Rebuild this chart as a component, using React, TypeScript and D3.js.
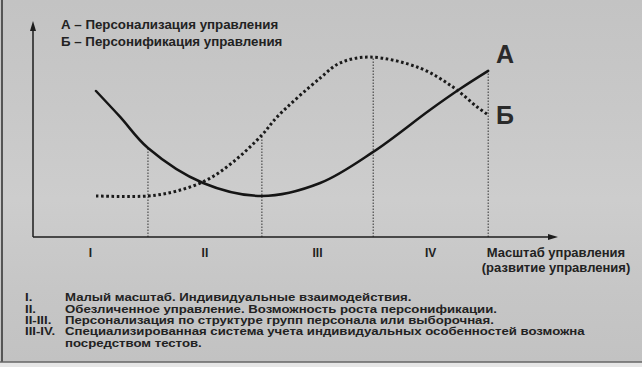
import React from "react";
import * as d3 from "d3";

// ---- data ----
const seriesA_x = [12.0, 16.6, 21.9, 32.4, 43.6, 54.7, 64.8, 75.6, 81.3, 86.7];
const seriesA_y = [67.6, 55.6, 41.2, 25.0, 19.0, 25.0, 39.4, 58.8, 68.5, 76.9];
const seriesB_x = [12.0, 21.9, 27.4, 33.1, 38.1, 43.6, 46.5, 54.7, 58.5, 64.2, 73.7, 80.0, 84.6, 86.7];
const seriesB_y = [19.0, 19.0, 21.3, 26.4, 34.7, 47.2, 55.6, 73.6, 80.6, 83.3, 78.2, 69.4, 60.2, 56.5];
const boundaries = [21.9, 43.6, 64.8, 86.7];
const boundaryTops = [41.2, 47.2, 83.3, 76.9];
const stageLabels = ["I", "II", "III", "IV"];
const legendLines = ["А – Персонализация управления", "Б – Персонификация управления"];
const axisLabelLines = ["Масштаб управления", "(развитие управления)"];
const noteKeys = ["I.", "II.", "II-III.", "III-IV.", ""];
const noteTexts = [
  "Малый масштаб. Индивидуальные взаимодействия.",
  "Обезличенное управление. Возможность роста персонификации.",
  "Персонализация по структуре групп персонала или выборочная.",
  "Специализированная система учета индивидуальных особенностей возможна",
  "посредством тестов.",
];

const W = 642;
const H = 367;
const FONT = "'Liberation Sans', Arial, sans-serif";

export default function App() {
  const x = d3.scaleLinear().domain([0, 100]).range([33, 558]);
  const y = d3.scaleLinear().domain([0, 100]).range([237, 21]);

  const line = d3
    .line<[number, number]>()
    .x((d) => x(d[0]))
    .y((d) => y(d[1]))
    .curve(d3.curveCatmullRom.alpha(0.5));

  const ptsA = seriesA_x.map((v, i) => [v, seriesA_y[i]] as [number, number]);
  const ptsB = seriesB_x.map((v, i) => [v, seriesB_y[i]] as [number, number]);

  const edges = [0, ...boundaries];
  const mids = stageLabels.map((_, i) => (edges[i] + edges[i + 1]) / 2);

  const ink = "#1c1c1c";
  const sx = 1.2;

  return (
    <svg
      width={W}
      height={H}
      style={{ position: "absolute", left: 0, top: 0 }}
      xmlns="http://www.w3.org/2000/svg"
    >
      <defs>
        <linearGradient id="bg" x1="0" y1="0" x2="0" y2="1">
          <stop offset="0" stopColor="#c3c3c3" />
          <stop offset="0.3" stopColor="#c8c8c8" />
          <stop offset="0.55" stopColor="#cdcdcd" />
          <stop offset="0.8" stopColor="#c6c6c6" />
          <stop offset="1" stopColor="#c2c2c2" />
        </linearGradient>
      </defs>
      <rect x={0} y={0} width={W} height={H} fill="#e6e6e6" />
      <rect x={0} y={0} width={W} height={362} fill="url(#bg)" />
      <line x1={2} y1={0} x2={2} y2={362} stroke="#555" strokeWidth={2} />
      <line x1={0} y1={362} x2={W} y2={362} stroke="#666" strokeWidth={1.5} />

      {/* boundary dotted lines */}
      {boundaries.map((b, i) => (
        <line
          key={i}
          x1={x(b)}
          x2={x(b)}
          y1={y(0)}
          y2={y(boundaryTops[i])}
          stroke="#333"
          strokeWidth={1}
          strokeDasharray="1.5 1.5"
        />
      ))}

      {/* axes */}
      <line x1={x(0)} y1={y(0)} x2={x(100) - 6} y2={y(0)} stroke={ink} strokeWidth={1.5} />
      <path
        d={`M${x(100)},${y(0)} L${x(100) - 10},${y(0) - 3} L${x(100) - 10},${y(0) + 3} Z`}
        fill={ink}
      />
      <line x1={x(0)} y1={y(0)} x2={x(0)} y2={y(100) + 6} stroke={ink} strokeWidth={1.5} />
      <path
        d={`M${x(0)},${y(100)} L${x(0) - 3},${y(100) + 10} L${x(0) + 3},${y(100) + 10} Z`}
        fill={ink}
      />

      {/* curves */}
      <path d={line(ptsB) || ""} fill="none" stroke="#1a1a1a" strokeWidth={3} strokeDasharray="2.6 2.6" />
      <path d={line(ptsA) || ""} fill="none" stroke="#151515" strokeWidth={2.5} strokeLinecap="round" />

      {/* curve labels */}
      <text x={x(88.2)} y={y(80.6)} fontFamily={FONT} fontWeight="bold" fontSize={25} fill="#2a2a2a">
        А
      </text>
      <text x={x(88.2)} y={y(52.3)} fontFamily={FONT} fontWeight="bold" fontSize={25} fill="#2a2a2a">
        Б
      </text>

      {/* legend */}
      {legendLines.map((t, i) => (
        <text key={i} x={61} y={28.5 + i * 17.5} fontFamily={FONT} fontWeight="bold" fontSize={13.3} fill="#222">
          {t}
        </text>
      ))}

      {/* stage labels */}
      {stageLabels.map((s, i) => (
        <text
          key={s}
          x={x(mids[i])}
          y={257}
          textAnchor="middle"
          fontFamily={FONT}
          fontWeight="bold"
          fontSize={12}
          fill="#222"
        >
          {s}
        </text>
      ))}

      {/* x axis label */}
      {axisLabelLines.map((t, i) => (
        <text
          key={i}
          x={556}
          y={257 + i * 15}
          textAnchor="middle"
          fontFamily={FONT}
          fontWeight="bold"
          fontSize={13}
          fill="#222"
        >
          {t}
        </text>
      ))}

      {/* notes */}
      <g transform={`scale(${sx},1)`}>
        {noteTexts.map((t, i) => (
          <g key={i}>
            <text x={25 / sx} y={301.5 + i * 11.3} fontFamily={FONT} fontWeight="bold" fontSize={11} fill="#222">
              {noteKeys[i]}
            </text>
            <text x={65 / sx} y={301.5 + i * 11.3} fontFamily={FONT} fontWeight="bold" fontSize={11} fill="#222">
              {t}
            </text>
          </g>
        ))}
      </g>
    </svg>
  );
}
